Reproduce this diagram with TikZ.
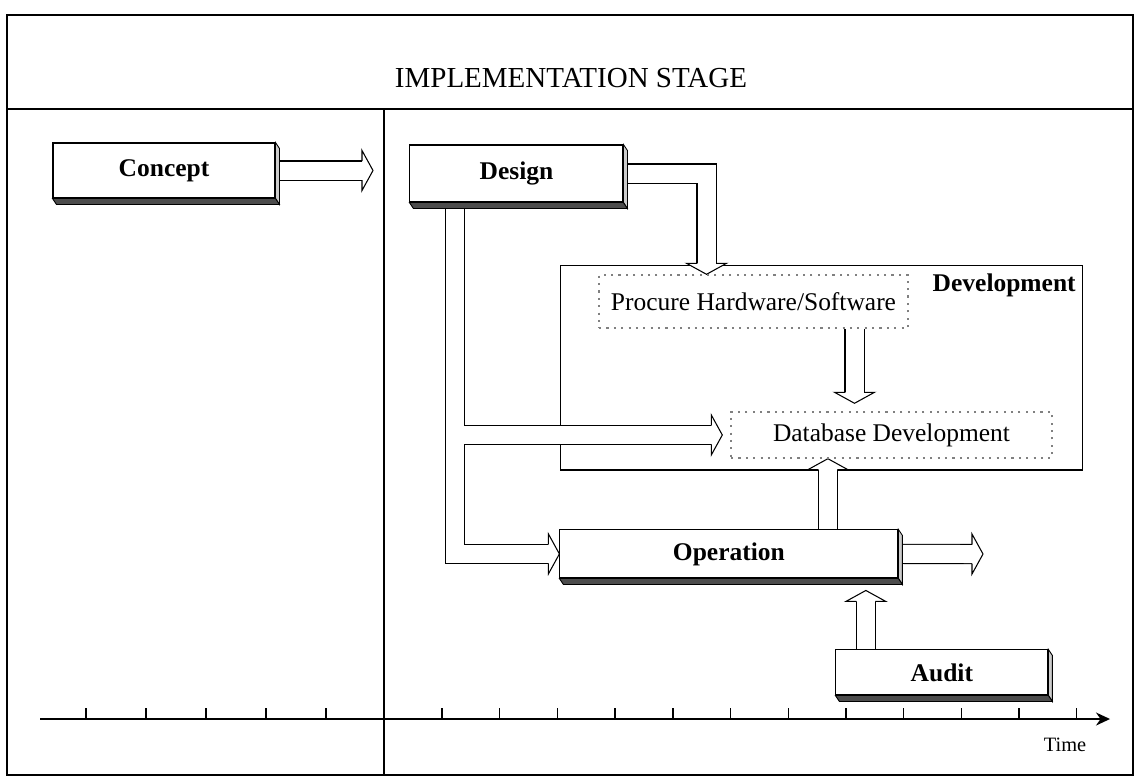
\documentclass[tikz,border=0pt]{standalone}
\usepackage{fontspec}
\setmainfont{Liberation Serif}
\usepackage{tikz}
\usetikzlibrary{arrows.meta, backgrounds, positioning}
\tikzstyle{stagebox} = [rectangle, draw=black, fill=white, line width=0.6pt, inner sep=0pt, font=\fontsize{14.5}{17}\selectfont\bfseries]
\tikzstyle{taskbox}  = [rectangle, draw=black!50, dash pattern=on 1.2pt off 3pt, line width=0.8pt, fill=white, inner sep=0pt, font=\fontsize{14.5}{17}\selectfont]
\tikzstyle{groupbox} = [rectangle, draw=black, line width=0.6pt, inner sep=0pt]
\tikzstyle{pipe}     = [line width=0.6pt, double=white, double distance=0.36cm, shorten >=0.2cm]
\tikzstyle{frame}    = [line width=0.9pt]
\tikzstyle{timeline} = [line width=1pt, -{Stealth[length=0.28cm, width=0.26cm]}]
\tikzset{blockhead/.pic={\filldraw [fill=white, line width=0.6pt] (-11,-9.5) -- (-11,-20) -- (0,0) -- (-11,20) -- (-11,9.5);}}

\begin{document}
\begin{tikzpicture}[x=0.02cm, y=-0.02cm]
      \useasboundingbox (0,0) rectangle (1138,779);
      % Frame
      \draw [frame] (7,15) rectangle (1133,775);
      \draw [frame] (7,109) -- (1133,109);
      \draw [frame] (384,109) -- (384,775);
      \node (stage_title) [font=\fontsize{16.5}{19}\selectfont] at (571,78) {IMPLEMENTATION STAGE};

      % Nodes
      \node (concept_box)     [stagebox, minimum width=4.44cm, minimum height=1.1cm] at (164,170.5)           {Concept};
      \node (design_box)      [stagebox, minimum width=4.26cm, minimum height=1.14cm, right of=concept_box, xshift=6.05cm, yshift=-0.06cm] {Design};
      %% Development
      \node (procure_box)     [taskbox, minimum width=6.18cm, minimum height=1.06cm] at (753.5,301.5)          {Procure Hardware/Software};
      \node (database_box)    [taskbox, minimum width=6.42cm, minimum height=0.92cm, below of=procure_box, xshift=2.76cm, yshift=-1.67cm] {Database Development};
      \node (development_label) [anchor=base east, inner sep=0pt, font=\fontsize{14.5}{17}\selectfont\bfseries] at (1076,291) {Development};
      %% Operation & Audit
      \node (operation_box)   [stagebox, minimum width=6.76cm, minimum height=0.96cm, below of=design_box, xshift=4.25cm, yshift=-6.61cm] {Operation};
      \node (audit_box)       [stagebox, minimum width=4.24cm, minimum height=0.9cm, below of=operation_box, xshift=4.26cm, yshift=-1.37cm] {Audit};

      % Arrow ends
      \coordinate (concept_tip)   at (373,170.5);
      \coordinate (procure_in)    at ([shift={(-47,0)}]procure_box.north);
      \coordinate (branch_top)    at ([shift={(46,0)}]design_box.south west);
      \coordinate (database_in)   at ([shift={(-8,0)}]database_box.west);
      \coordinate (procure_out)   at ([shift={(101,0)}]procure_box.south);
      \coordinate (procure_drop)  at (procure_out |- database_box.north);
      \coordinate (drop_tip)      at ([shift={(0,-8)}]procure_drop);
      \coordinate (operation_up)  at ([shift={(99,0)}]operation_box.north);
      \coordinate (rise_tip)      at (operation_up |- database_box.south);
      \coordinate (operation_tip) at (983,554);
      \coordinate (audit_up)      at ([shift={(-76,0)}]audit_box.north);
      \coordinate (audit_drop)    at (audit_up |- operation_box.south);
      \coordinate (audit_tip)     at ([shift={(0,12)}]audit_drop);

      % % Arrows
      \begin{pgfonlayer}{background}
        \node (development_box) [groupbox, minimum width=10.46cm, minimum height=4.1cm] at (821.5,367.5) {};
        \draw [pipe] (concept_box.east)   -- (concept_tip);
        \draw [pipe] (design_box.east)    -| (procure_in);
        \draw [pipe] (branch_top) |- ([shift={(-10,0)}]operation_box.west)
                     (branch_top |- database_in) -- (database_in);
        \draw [pipe] (procure_out)        -- (drop_tip);
        \draw [pipe] (operation_up)       -- (rise_tip);
        \draw [pipe] (operation_box.east) -- (operation_tip);
        \draw [pipe] (audit_up)           -- (audit_tip);
        % heads
        \pic at (concept_tip) {blockhead};
        \pic [rotate=-90] at (procure_in) {blockhead};
        \pic at (database_in) {blockhead};
        \pic at (operation_box.west) {blockhead};
        \pic [rotate=-90] at (drop_tip) {blockhead};
        \pic [rotate=90] at (rise_tip) {blockhead};
        \pic at (operation_tip) {blockhead};
        \pic [rotate=90] at (audit_tip) {blockhead};
      \end{pgfonlayer}

      % Box depth
      \foreach \n in {concept_box, design_box, operation_box, audit_box} {
        \filldraw [fill=black!20, line width=0.5pt] (\n.north east) -- ([shift={(4,6)}]\n.north east) -- ([shift={(4,6)}]\n.south east) -- (\n.south east) -- cycle;
        \filldraw [fill=black!70, line width=0.5pt] (\n.south west) -- ([shift={(4,6)}]\n.south west) -- ([shift={(4,6)}]\n.south east) -- (\n.south east) -- cycle;
      }

      % Time axis
      \coordinate (time_start) at (40,719);
      \coordinate (time_end)   at (1110,719);
      \draw [timeline] (time_start) -- (time_end);
      \foreach \x in {86,146,206,266,326}
        \draw [line width=0.8pt] (\x,719) -- ++(0,-11);
      \foreach \i in {0,...,11}
        \draw [line width=0.8pt] ({442+57.7*\i},719) -- ++(0,-11);
      \node (time_label) [font=\fontsize{11.6}{14}\selectfont] at (1065,745) {Time};
\end{tikzpicture}
\end{document}
